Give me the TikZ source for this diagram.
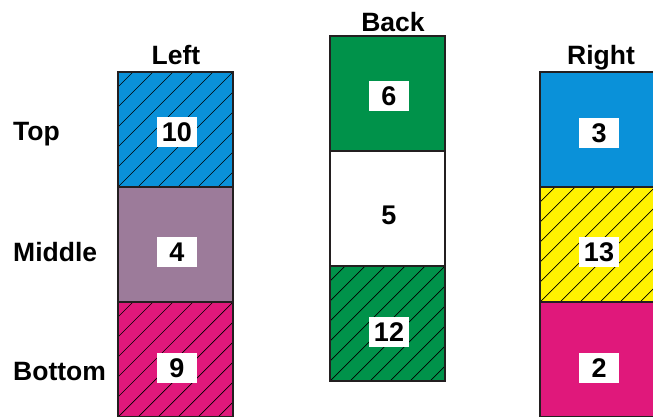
\documentclass[tikz,border=0pt]{standalone}
\usepackage{fontspec}
\setmainfont{Liberation Sans}
\definecolor{edge}{HTML}{231F20}
\definecolor{cblue}{HTML}{0A91D9}
\definecolor{cmauve}{HTML}{9C7B9A}
\definecolor{cpink}{HTML}{E0187B}
\definecolor{cgreen}{HTML}{00924A}
\definecolor{cyellow}{HTML}{FFF200}
\begin{document}
\begin{tikzpicture}[x=1pt,y=-1pt,
  cell/.style={draw=edge, line width=2pt, minimum width=115pt, minimum height=115pt, inner sep=0pt, outer sep=0pt},
  hatch/.style={path picture={\foreach \k in {-6,...,6}{\draw[line width=0.7pt, black] ([xshift=\k*20pt]path picture bounding box.south west) -- ++(200pt,200pt);}}},
  numbox/.style={fill=white, minimum width=40pt, minimum height=30pt, inner sep=0pt, font=\fontsize{27}{30}\selectfont\bfseries},
  lbl/.style={font=\fontsize{26.5}{30}\selectfont\bfseries, inner sep=0pt}]
\useasboundingbox (0,0) rectangle (653,417);
% Left column
\node[cell, fill=cblue, hatch] (L1) at (175.5,129.5) {};
\node[cell, fill=cmauve] (L2) at (175.5,244.5) {};
\node[cell, fill=cpink, hatch] (L3) at (175.5,359.5) {};
% Back column
\node[cell, fill=cgreen] (B1) at (387.5,93.5) {};
\node[cell, fill=white] (B2) at (387.5,208.5) {};
\node[cell, fill=cgreen, hatch] (B3) at (387.5,323.5) {};
% Right column
\node[cell, fill=cblue] (R1) at (597.5,129.5) {};
\node[cell, fill=cyellow, hatch] (R2) at (597.5,244.5) {};
\node[cell, fill=cpink] (R3) at (597.5,359.5) {};
% numbers
\node[numbox] (nL1) at (177,132) {10};
\node[numbox] (nL2) at (177,252) {4};
\node[numbox] (nL3) at (177,368) {9};
\node[numbox] (nB1) at (389,96) {6};
\node[numbox] (nB2) at (389,215) {5};
\node[numbox] (nB3) at (389,332) {12};
\node[numbox] (nR1) at (599,133) {3};
\node[numbox] (nR2) at (599,252) {13};
\node[numbox] (nR3) at (599,368) {2};
% titles
\node[lbl, anchor=base] (tL) at (176,65) {Left};
\node[lbl, anchor=base] (tB) at (393,32) {Back};
\node[lbl, anchor=base] (tR) at (601,65) {Right};
% row labels
\node[lbl, anchor=base west] (rT) at (13,140) {Top};
\node[lbl, anchor=base west] (rM) at (13,261) {Middle};
\node[lbl, anchor=base west] (rB) at (13,380) {Bottom};
\end{tikzpicture}
\end{document}
